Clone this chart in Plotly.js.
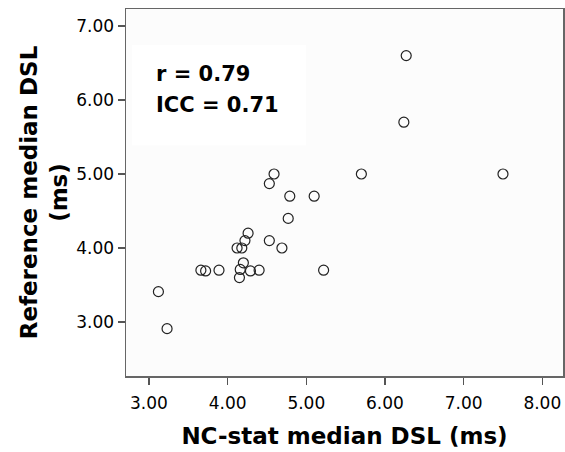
<!DOCTYPE html>
<html>
<head>
<meta charset="utf-8">
<script src="https://cdn.plot.ly/plotly-3.0.1.min.js"></script>
<style>html,body{margin:0;padding:0;background:#fff;}#chart{width:565px;height:452px;}</style>
</head>
<body>
<div id="chart"></div>
<script>
// NC-stat median DSL (ms)
var ncstatDSL = [6.27, 6.24, 5.70, 7.50, 4.59, 4.53, 4.79, 5.10, 4.77, 4.26, 4.22, 4.53, 4.69, 4.12, 4.18, 4.20, 4.16, 4.29, 4.40, 4.15, 3.89, 3.66, 3.72, 5.22, 3.12, 3.23];
// Reference median DSL (ms)
var referenceDSL = [6.60, 5.70, 5.00, 5.00, 5.00, 4.87, 4.70, 4.70, 4.40, 4.20, 4.10, 4.10, 4.00, 4.00, 4.00, 3.80, 3.71, 3.69, 3.70, 3.60, 3.70, 3.70, 3.69, 3.70, 3.41, 2.91];
var xTickVals = [3, 4, 5, 6, 7, 8];
var xTickText = ["3.00", "4.00", "5.00", "6.00", "7.00", "8.00"];
var yTickVals = [3, 4, 5, 6, 7];
var yTickText = ["3.00", "4.00", "5.00", "6.00", "7.00"];
var statLabels = ["r = 0.79", "ICC = 0.71"];

var trace = {
  x: ncstatDSL,
  y: referenceDSL,
  type: 'scatter',
  mode: 'markers',
  marker: {symbol: 'circle', size: 10, color: 'rgba(0,0,0,0)', line: {color: '#222', width: 1.2}},
  hoverinfo: 'skip'
};

var layout = {
  width: 565, height: 452,
  margin: {l: 126, r: 2, t: 9, b: 76, pad: 0},
  paper_bgcolor: '#ffffff',
  plot_bgcolor: '#fcfcfc',
  showlegend: false,
  font: {family: 'DejaVu Sans, sans-serif', color: '#000'},
  xaxis: {
    range: [2.708, 8.263], tickvals: xTickVals, ticktext: xTickText,
    showgrid: false, zeroline: false, showline: true, linecolor: '#666', linewidth: 1.5, mirror: true,
    ticks: 'outside', ticklen: 7, tickwidth: 1.3, tickcolor: '#555', ticklabelstandoff: 4,
    tickfont: {family: 'DejaVu Sans, sans-serif', size: 17, color: '#000'},
    title: {text: 'NC-stat median DSL (ms)', font: {family: 'DejaVu Sans, sans-serif', size: 23, color: '#000', weight: 'bold'}, standoff: 16}
  },
  yaxis: {
    range: [2.27, 7.23], tickvals: yTickVals, ticktext: yTickText,
    showgrid: false, zeroline: false, showline: true, linecolor: '#666', linewidth: 1.5, mirror: true,
    ticks: 'outside', ticklen: 7, tickwidth: 1.3, tickcolor: '#555',
    tickfont: {family: 'DejaVu Sans, sans-serif', size: 17, color: '#000'},
    title: {text: 'Reference median DSL<br>(ms)', font: {family: 'DejaVu Sans, sans-serif', size: 23, color: '#000', weight: 'bold'}, standoff: 2}
  },
  shapes: [{
    type: 'rect', xref: 'paper', yref: 'paper', x0: 0.0137, x1: 0.412, y0: 0.629, y1: 0.902,
    fillcolor: '#ffffff', line: {width: 0}, layer: 'below'
  }],
  annotations: [
    {text: statLabels[0], xref: 'paper', yref: 'paper', x: 0.064, y: 0.823, xanchor: 'left', yanchor: 'middle', showarrow: false,
     font: {family: 'DejaVu Sans, sans-serif', size: 21, color: '#000', weight: 'bold'}},
    {text: statLabels[1], xref: 'paper', yref: 'paper', x: 0.064, y: 0.738, xanchor: 'left', yanchor: 'middle', showarrow: false,
     font: {family: 'DejaVu Sans, sans-serif', size: 21, color: '#000', weight: 'bold'}}
  ]
};

Plotly.newPlot('chart', [trace], layout, {staticPlot: true, displayModeBar: false});
</script>
</body>
</html>
